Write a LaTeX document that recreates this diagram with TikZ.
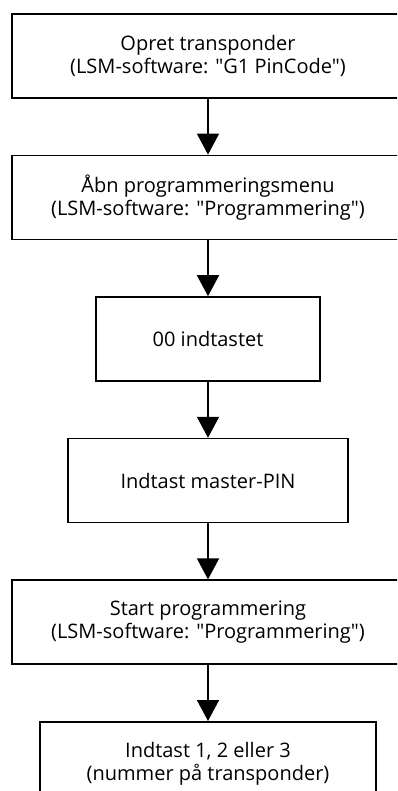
\documentclass[tikz,border=0pt]{standalone}
\usepackage{fontspec}
\setmainfont{Open Sans}[Ligatures=TeXOff]
\usepackage{tikz}
\usetikzlibrary{shapes,arrows.meta,positioning}

\begin{document}
\begin{tikzpicture}[node distance=56pt, auto,
    stepbox/.style={draw, rectangle, line width=1.6pt, minimum height=84pt, inner sep=0pt, align=center, font=\fontsize{20}{22.5}\selectfont},
    flow/.style={-{Triangle[width=22pt,length=21pt]}, line width=1.6pt}]
        \useasboundingbox (0,0) rectangle (397pt,-791pt);
        \clip (0,0) rectangle (397pt,-791pt);
        % Nodes
        \node[stepbox, minimum width=392pt, anchor=north] (create) at (208pt,-13pt) {Opret transponder\\(LSM-software: "G1 PinCode")};
        \node[stepbox, minimum width=392pt, below=of create] (menu) {Åbn programmeringsmenu\\(LSM-software: "Programmering")};
        \node[stepbox, minimum width=224pt, below=of menu] (zeros) {00 indtastet};
        \node[stepbox, minimum width=280pt, below=of zeros] (masterpin) {Indtast master-PIN};
        \node[stepbox, minimum width=392pt, below=of masterpin] (start) {Start programmering\\(LSM-software: "Programmering")};
        \node[stepbox, minimum width=336pt, below=of start] (number) {Indtast 1, 2 eller 3\\(nummer på transponder)};

        % Arrows
        \draw[flow] (create) -- (menu);
        \draw[flow] (menu) -- (zeros);
        \draw[flow] (zeros) -- (masterpin);
        \draw[flow] (masterpin) -- (start);
        \draw[flow] (start) -- (number);
\end{tikzpicture}
\end{document}
